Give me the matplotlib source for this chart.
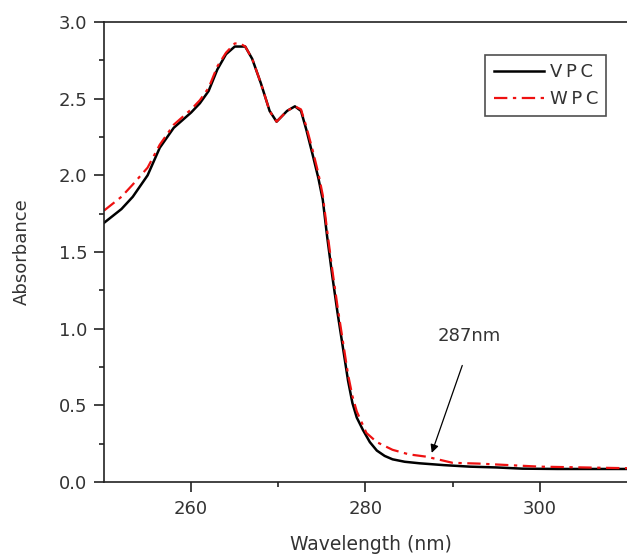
import matplotlib
matplotlib.use("Agg")
import matplotlib.pyplot as plt
from matplotlib.ticker import MultipleLocator, FixedLocator, FormatStrFormatter

plt.rcParams['font.family'] = ['DejaVu Sans']

# VPC (black, solid)
vpc_x = [250, 252, 253.3, 255, 256.4, 258, 260, 261, 262, 263, 264, 265, 265.6, 266.2,
         267, 268, 269, 269.8, 271, 271.9, 272.6, 273.2, 274, 274.6, 275.1, 275.6, 276.2,
         276.8, 277.4, 278, 278.5, 279, 279.7, 280.5, 281.3, 282.2, 283.1, 284.5, 286.2,
         289, 292, 295, 298, 302, 306, 310]
vpc_y = [1.69, 1.78, 1.86, 2.00, 2.18, 2.31, 2.41, 2.47, 2.55, 2.69, 2.79, 2.84, 2.84, 2.84,
         2.76, 2.60, 2.42, 2.35, 2.42, 2.45, 2.42, 2.30, 2.12, 1.98, 1.84, 1.60, 1.34,
         1.10, 0.88, 0.66, 0.515, 0.42, 0.34, 0.26, 0.205, 0.17, 0.148, 0.132, 0.122,
         0.11, 0.10, 0.095, 0.087, 0.085, 0.085, 0.085]

# WPC (red, dash-dot)
wpc_x = [250, 252, 253.3, 255, 256.4, 258, 260, 261, 262, 263, 264, 265, 265.6, 266.2,
         267, 268, 269, 269.8, 271, 271.9, 272.6, 273.2, 274, 274.6, 275.1, 275.6, 276.2,
         276.8, 277.4, 278, 278.5, 279, 280.1, 281.3, 283.1, 285, 287, 290, 293, 296.5,
         300, 305, 310]
wpc_y = [1.77, 1.86, 1.94, 2.05, 2.20, 2.33, 2.43, 2.49, 2.57, 2.71, 2.80, 2.86, 2.86, 2.84,
         2.76, 2.60, 2.42, 2.35, 2.42, 2.45, 2.43, 2.32, 2.15, 2.01, 1.87, 1.64, 1.38,
         1.14, 0.92, 0.70, 0.56, 0.46, 0.32, 0.26, 0.21, 0.18, 0.165, 0.125, 0.12, 0.11,
         0.10, 0.095, 0.09]

x_major_ticks = [260, 280, 300]
x_minor_ticks = [270, 290]
series_labels = ['V\u2009P\u2009C', 'W\u2009P\u2009C']

annot_text = "287nm"
annot_xy = (287.6, 0.19)
annot_text_xy = (291.9, 0.95)
annot_arrow_start = (291.1, 0.76)

FS = 13
TXT = '#333333'

fig = plt.figure(figsize=(6.27, 5.54), dpi=100)
ax = fig.add_axes([104/627, 1-482/554, 1-104/627, (482-22)/554])

ax.plot(vpc_x, vpc_y, color='black', lw=1.8, label=series_labels[0])
ax.plot(wpc_x, wpc_y, color='#ee1111', lw=1.6, ls=(0, (6, 2.5, 1.5, 2.5)), label=series_labels[1])

ax.set_xlim(250, 310)
ax.set_ylim(0, 3.0)
ax.xaxis.set_major_locator(FixedLocator(x_major_ticks))
ax.xaxis.set_minor_locator(FixedLocator(x_minor_ticks))
ax.yaxis.set_major_locator(MultipleLocator(0.5))
ax.yaxis.set_minor_locator(MultipleLocator(0.25))
ax.yaxis.set_major_formatter(FormatStrFormatter('%.1f'))

for s in ['left', 'bottom', 'top']:
    ax.spines[s].set_linewidth(1.2)
    ax.spines[s].set_color('#222222')
ax.spines['right'].set_visible(False)
ax.tick_params(which='major', direction='out', length=7, width=1.2, color='#222222',
               labelsize=FS, labelcolor=TXT, top=False, right=False)
ax.tick_params(which='minor', direction='out', length=3.6, width=1.2, color='#222222',
               top=False, right=False)
ax.tick_params(axis='x', which='major', pad=6)
ax.tick_params(axis='y', which='major', pad=5)

ax.set_xlabel('Wavelength (nm)', fontsize=FS + 0.5, color=TXT)
ax.set_ylabel('Absorbance', fontsize=FS, color=TXT)
ax.xaxis.set_label_coords((371 - 104) / 523, -(545 - 482) / 460)
ax.xaxis.label.set_va('center')
ax.yaxis.set_label_coords(-(104 - 21.5) / 523, 0.5)
ax.yaxis.label.set_va('center')

ax.text(annot_text_xy[0], annot_text_xy[1], annot_text, fontsize=FS, color=TXT,
        ha='center', va='center')
ax.annotate('', xy=annot_xy, xytext=annot_arrow_start,
            arrowprops=dict(arrowstyle='-|>', color='black', lw=0.9,
                            mutation_scale=12, shrinkA=0, shrinkB=0))

leg = ax.legend(loc='upper right', bbox_to_anchor=(606/627, 1-55/554),
                bbox_transform=fig.transFigure, frameon=True,
                fancybox=False, fontsize=FS, handlelength=2.8, handletextpad=0.3,
                borderpad=0.45, labelspacing=0.5, borderaxespad=0)
leg.get_frame().set_edgecolor('#222222')
leg.get_frame().set_linewidth(1.2)
for t in leg.get_texts():
    t.set_color(TXT)

fig.savefig('out.png', dpi=100)
